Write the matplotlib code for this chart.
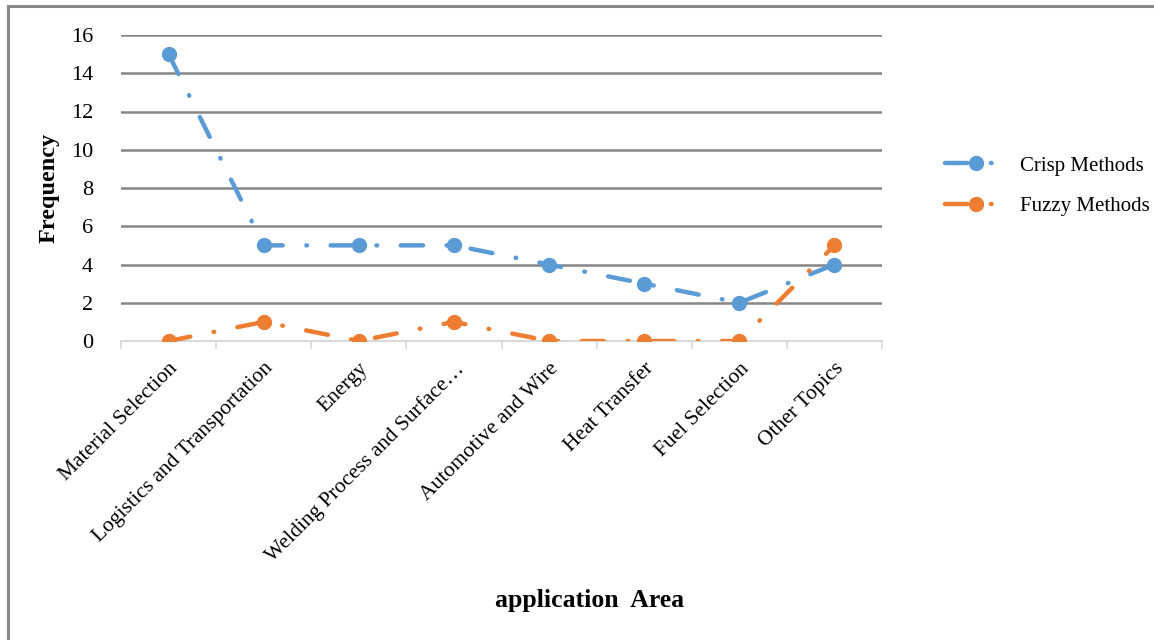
import matplotlib.pyplot as plt
from matplotlib.lines import Line2D

categories = ["Material Selection", "Logistics and Transportation", "Energy",
              "Welding Process and Surface\u2026", "Automotive and Wire",
              "Heat Transfer", "Fuel Selection", "Other Topics"]
crisp = [15, 5, 5, 5, 4, 3, 2, 4]
fuzzy = [0, 1, 0, 1, 0, 0, 0, 5]

plt.rcParams['font.family'] = ['Liberation Serif', 'DejaVu Serif']
plt.rcParams['lines.scale_dashes'] = False

fig = plt.figure(figsize=(11.54, 6.4), dpi=100)
ax = fig.add_axes([121 / 1154, 1 - 341 / 640, (882 - 121) / 1154, (341 - 35) / 640])

dash = (0, (16, 17, 0.5, 17))
x = list(range(len(categories)))
ax.plot(x, crisp, color='#5B9BD5', lw=3.2, linestyle=dash, dash_capstyle='round',
        marker='o', markersize=10, label='Crisp Methods', zorder=3)
ax.plot(x, fuzzy, color='#ED7D31', lw=3.2, linestyle=dash, dash_capstyle='round',
        marker='o', markersize=10, label='Fuzzy Methods', zorder=3)

ax.set_xlim(-0.5, len(categories) - 0.5)
ax.set_ylim(0, 16)
ax.set_yticks(range(0, 17, 2))
ax.tick_params(axis='y', length=0, labelsize=16, pad=20)
for v in range(2, 17, 2):
    ax.axhline(v, color='#868686', lw=1.8, zorder=1)

ax.set_xticks(x)
ax.set_xticklabels(categories, rotation=45, ha='right', rotation_mode='anchor', fontsize=15.5)
ax.set_xticks([i - 0.5 for i in range(len(categories) + 1)], minor=True)
ax.tick_params(axis='x', which='major', length=0, pad=13)
ax.tick_params(axis='x', which='minor', length=6, width=1.2, color='#D9D9D9')

for s in ['top', 'right', 'left']:
    ax.spines[s].set_visible(False)
ax.spines['bottom'].set_color('#D9D9D9')
ax.spines['bottom'].set_linewidth(1.5)

ax.set_ylabel('Frequency', fontsize=17.5, fontweight='bold', labelpad=8)
fig.text(590 / 1154, 1 - 601 / 640, 'application  Area', fontsize=18.5, fontweight='bold',
         ha='center', va='center')

ax.legend(loc='center left', bbox_to_anchor=(926 / 1154, 1 - 186 / 640),
          bbox_transform=fig.transFigure, frameon=False, fontsize=15,
          handlelength=3.0, labelspacing=1.0, handletextpad=0.6)

# outer chart border (left and top)
fig.add_artist(Line2D([8 / 1154, 8 / 1154], [0, 1 - 6 / 640], color='#888888', lw=2.2))
fig.add_artist(Line2D([8 / 1154, 1], [1 - 6 / 640, 1 - 6 / 640], color='#888888', lw=2.2))

fig.savefig('out.png', dpi=100)
